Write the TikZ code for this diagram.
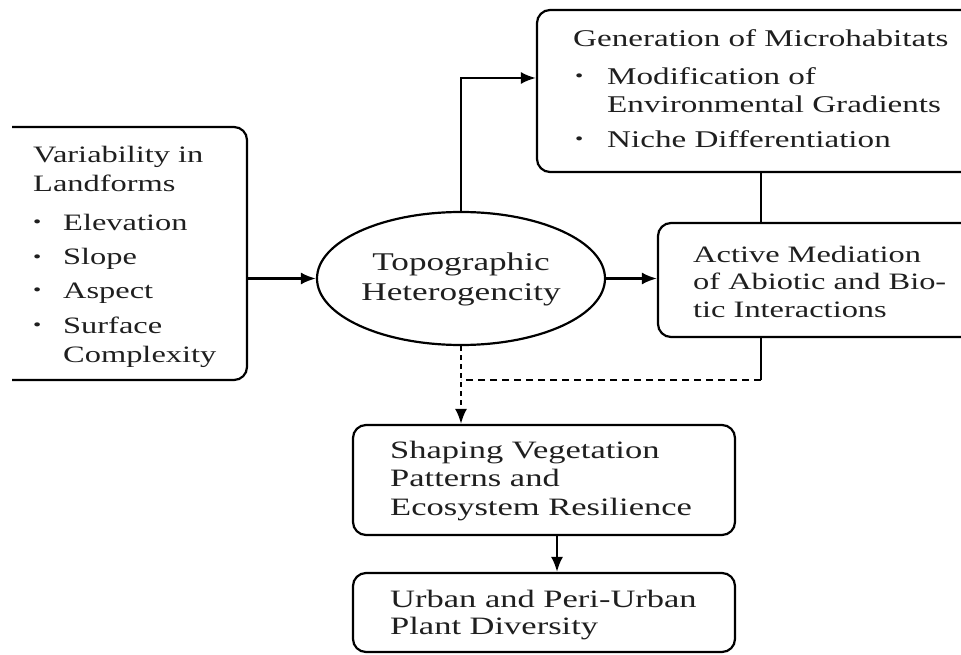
\documentclass[tikz,border=0pt]{standalone}
\usepackage{fontspec}
\setmainfont{Liberation Serif}[FakeStretch=1.38]
\usetikzlibrary{arrows.meta,shapes.geometric}
\begin{document}
\begin{tikzpicture}[x=1pt,y=-1pt,
  box/.style={draw, line width=2.2pt, rounded corners=13pt, inner sep=0pt},
  txt/.style={anchor=base west, inner sep=0pt, text=black!88, font=\fontsize{23.5}{28}\selectfont},
  gtxt/.style={txt, font=\fontsize{24}{28}\selectfont},
  stxt/.style={txt, font=\fontsize{25}{28}\selectfont},
  bul/.style={anchor=base west, inner sep=0pt, text=black!88, font=\fontsize{17}{20}\selectfont},
  ctxt/.style={anchor=base, inner sep=0pt, text=black!88, font=\fontsize{25.5}{28}\selectfont},
  arr/.style={line width=2.2pt, -{Latex[length=15pt,width=12pt]}},
  ln/.style={line width=2.2pt}]
\useasboundingbox (0,0) rectangle (961,655);
\begin{scope}
  \clip (12,0) rectangle (961,655);
  \node[box, minimum width=277pt, minimum height=253pt] (land) at (108.5,253.5) {};
  \node[box, minimum width=463pt, minimum height=162pt] (gen) at (768.5,91) {};
  \node[box, minimum width=342pt, minimum height=114pt] (act) at (829,280) {};
\end{scope}
\node[box, minimum width=382pt, minimum height=110pt] (shape) at (544,480) {};
\node[box, minimum width=382pt, minimum height=79pt] (urban) at (544,612.5) {};
\node[draw, ellipse, line width=2.2pt, minimum width=288pt, minimum height=133pt, inner sep=0pt] (topo) at (461,278.5) {};

% left box text
\node[txt] (l1) at (33,163) {Variability in};
\node[txt] (l2) at (33,192) {Landforms};
\node[bul] (b1) at (33,227) {•};
\node[txt] (l3) at (63,230) {Elevation};
\node[bul] (b2) at (33,262) {•};
\node[txt] (l4) at (63,265) {Slope};
\node[bul] (b3) at (33,295) {•};
\node[txt] (l5) at (63,298) {Aspect};
\node[bul] (b4) at (33,330) {•};
\node[txt] (l6) at (63,333) {Surface};
\node[txt] (l7) at (63,362) {Complexity};

% generation box text
\node[gtxt] (g1) at (573,47) {Generation of Microhabitats};
\node[bul] (gb1) at (575,82) {•};
\node[gtxt] (g2) at (607,85) {Modification of};
\node[gtxt] (g3) at (607,113) {Environmental Gradients};
\node[bul] (gb2) at (575,145) {•};
\node[gtxt] (g4) at (607,148) {Niche Differentiation};

% ellipse text
\node[ctxt] (e1) at (461,270) {Topographic};
\node[ctxt] (e2) at (461,300) {Heterogencity};

% active box text
\node[txt] (a1) at (693,262) {Active Mediation};
\node[txt] (a2) at (693,289) {of Abiotic and Bio-};
\node[txt] (a3) at (693,317) {tic Interactions};

% shaping box text
\node[stxt] (s1) at (390,458) {Shaping Vegetation};
\node[stxt] (s2) at (390,486) {Patterns and};
\node[stxt] (s3) at (390,515) {Ecosystem Resilience};

% urban box text
\node[stxt] (u1) at (390,607) {Urban and Peri-Urban};
\node[stxt] (u2) at (390,634) {Plant Diversity};

% connectors
\coordinate (jx) at (761,0);
\coordinate (dj) at (761,380);
\draw[arr] (topo.west -| land.east) -- (topo.west);
\draw[arr] (topo.east) -- (topo.east -| act.west);
\draw[arr] (topo.north) |- ([yshift=13pt]gen.west);
\draw[ln] (gen.south -| jx) -- (act.north -| jx);
\draw[ln] (act.south -| jx) -- (dj);
\draw[ln, dash pattern=on 7pt off 5pt] (dj) -- (topo.south |- dj);
\draw[arr, dash pattern=on 5pt off 4pt] (topo.south) -- (topo.south |- shape.north);
\draw[arr] ([xshift=13pt]shape.south) -- ([xshift=13pt]urban.north);
\end{tikzpicture}
\end{document}
